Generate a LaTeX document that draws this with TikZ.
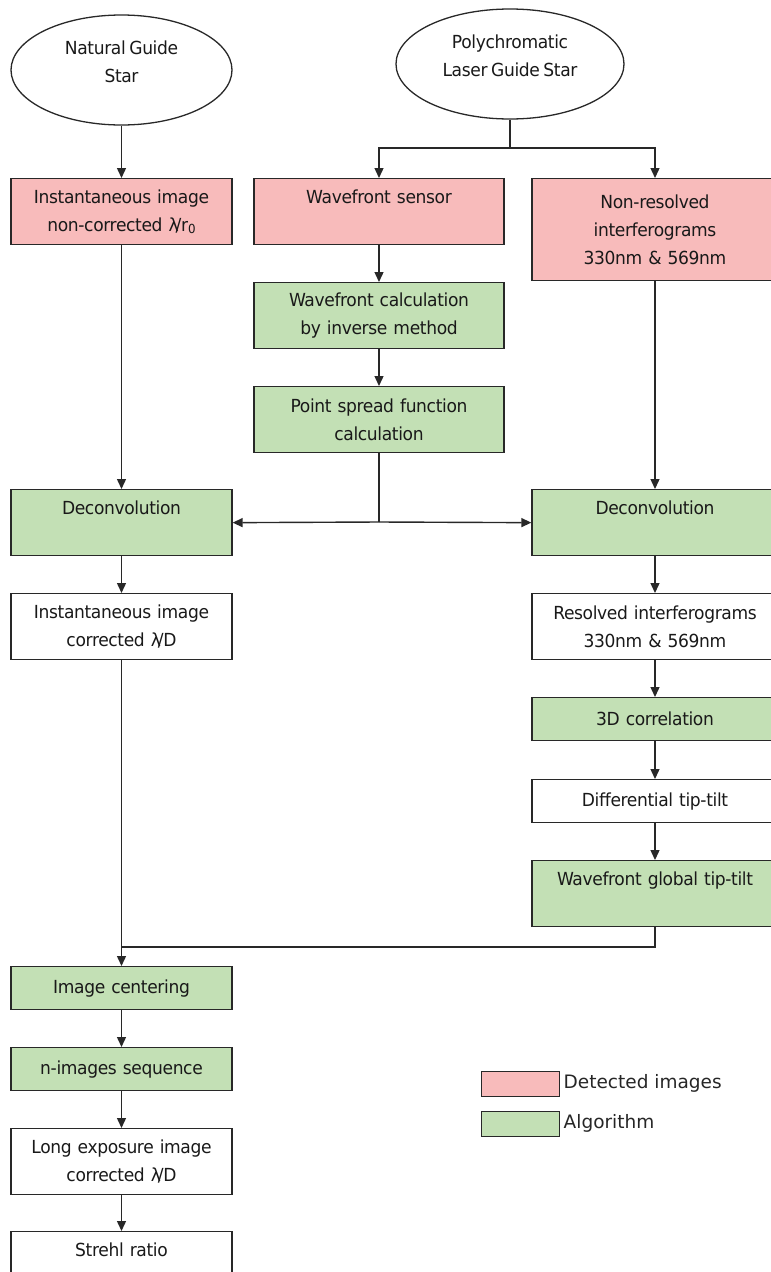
\documentclass[tikz,border=0pt]{standalone}
\usepackage{fontspec}
\usepackage{tikz}
\usetikzlibrary{arrows.meta}
\usetikzlibrary{shapes.geometric}
\newfontfamily\boxfont{DejaVu Sans}[FakeStretch=0.95, LetterSpace=-2, WordSpace=0.7]
\newfontfamily\keyfont{DejaVu Sans}
\definecolor{detected}{RGB}{248,187,187}
\definecolor{algo}{RGB}{195,224,181}
\definecolor{edge}{RGB}{40,40,40}
\newcommand{\subz}{\raisebox{-2.5pt}{\fontsize{12.5}{12.5}\selectfont 0}}
\tikzset{
  every picture/.style={x=1pt, y=-1pt},
  boxtext/.style={font={\boxfont\fontsize{18}{28}\selectfont}, text=black!90},
  stage/.style={draw=edge, line width=1.3pt, rectangle, boxtext, align=center,
      anchor=north, inner xsep=2pt, inner ysep=4pt},
  lcol/.style={stage, minimum width=221pt, text width=215pt},
  mcol/.style={stage, minimum width=250pt, text width=244pt},
  rcol/.style={stage, minimum width=246pt, text width=240pt},
  short/.style={minimum height=43pt},
  tall/.style={minimum height=66pt},
  onetop/.style={inner ysep=0pt, text height=25pt, text depth=41pt},
  det/.style={fill=detected},
  alg/.style={fill=algo},
  star/.style={ellipse, draw=edge, line width=1.3pt, minimum height=110pt},
  startext/.style={boxtext, align=center, yshift=8pt},
  arr/.style={draw=edge, line width=1.4pt, -{Triangle[length=10pt,width=9pt]}},
  link/.style={draw=edge, line width=1.4pt},
  keybox/.style={draw=edge, line width=1pt, minimum width=78pt, minimum height=25pt},
  keytext/.style={font={\keyfont\fontsize{18.5}{22}\selectfont}, text=black!85,
      anchor=west, inner sep=0pt},
}
\begin{document}
\begin{tikzpicture}
  \useasboundingbox (0,0) rectangle (771,1272);

  % sources
  \node[star, minimum width=221pt, label={[startext]center:Natural Guide\\Star}]
    (ngs) at (121.5,70) {};
  \node[star, minimum width=228pt, label={[startext]center:Polychromatic\\Laser Guide Star}]
    (lgs) at (510,64) {};

  % left column
  \node[lcol, det, tall] (rawimg) at (121.5,178)
    {Instantaneous image\\non-corrected λ\kern-3pt/r\subz};
  \node[lcol, alg, tall, onetop] (deconvl) at (121.5,489) {Deconvolution};
  \node[lcol, tall] (corrimg) at (121.5,593)
    {Instantaneous image\\corrected λ\kern-3pt/D};
  \node[lcol, alg, short] (centering) at (121.5,966) {Image centering};
  \node[lcol, alg, short] (nseq) at (121.5,1047) {n-images sequence};
  \node[lcol, tall] (longexp) at (121.5,1128)
    {Long exposure image\\corrected λ\kern-3pt/D};
  \node[lcol, tall, onetop] (strehl) at (121.5,1231) {Strehl ratio};

  % middle column
  \node[mcol, det, tall, onetop] (wfs) at (379,178) {Wavefront sensor};
  \node[mcol, alg, tall] (wfcalc) at (379,282)
    {Wavefront calculation\\by inverse method};
  \node[mcol, alg, tall] (psf) at (379,386)
    {Point spread function\\calculation};

  % right column
  \node[rcol, det, minimum height=102pt] (nonres) at (655,178)
    {Non-resolved\\interferograms\\330nm \& 569nm};
  \node[rcol, alg, tall, onetop] (deconvr) at (655,489) {Deconvolution};
  \node[rcol, tall] (resolved) at (655,593)
    {Resolved interferograms\\330nm \& 569nm};
  \node[rcol, alg, short] (corr3d) at (655,697) {3D correlation};
  \node[rcol, short] (difftt) at (655,779) {Differential tip-tilt};
  \node[rcol, alg, tall, onetop] (globaltt) at (655,860) {Wavefront global tip-tilt};

  % forks
  \coordinate (lgsfork) at (510,148);
  \coordinate (psffork) at (379,522);
  \coordinate (ttjoin) at (655,947);

  \draw[link] (lgs.south) -- (lgsfork);
  \draw[arr] (lgsfork) -| (wfs.north);
  \draw[arr] (lgsfork) -| (nonres.north);

  \draw[arr] (ngs.south) -- (rawimg.north);
  \draw[arr] (rawimg.south) -- (deconvl.north);
  \draw[arr] (deconvl.south) -- (corrimg.north);
  \draw[arr] (corrimg.south) -- (centering.north);
  \draw[arr] (centering.south) -- (nseq.north);
  \draw[arr] (nseq.south) -- (longexp.north);
  \draw[arr] (longexp.south) -- (strehl.north);

  \draw[arr] (wfs.south) -- (wfcalc.north);
  \draw[arr] (wfcalc.south) -- (psf.north);
  \draw[link] (psf.south) -- (psffork);
  \draw[arr] (psffork) -- (deconvl.east);
  \draw[arr] (psffork) -- (deconvr.west);

  \draw[arr] (nonres.south) -- (deconvr.north);
  \draw[arr] (deconvr.south) -- (resolved.north);
  \draw[arr] (resolved.south) -- (corr3d.north);
  \draw[arr] (corr3d.south) -- (difftt.north);
  \draw[arr] (difftt.south) -- (globaltt.north);
  \draw[link] (globaltt.south) -- (ttjoin) -- (ttjoin -| corrimg.south);

  % key
  \node[keybox, fill=detected] (keydet) at (520,1083.5) {};
  \node[keybox, fill=algo] (keyalg) at (520,1123.5) {};
  \node[keytext] (keydettext) at ([xshift=4pt]keydet.east) {Detected images};
  \node[keytext] (keyalgtext) at ([xshift=4pt]keyalg.east) {Algorithm};
\end{tikzpicture}
\end{document}
